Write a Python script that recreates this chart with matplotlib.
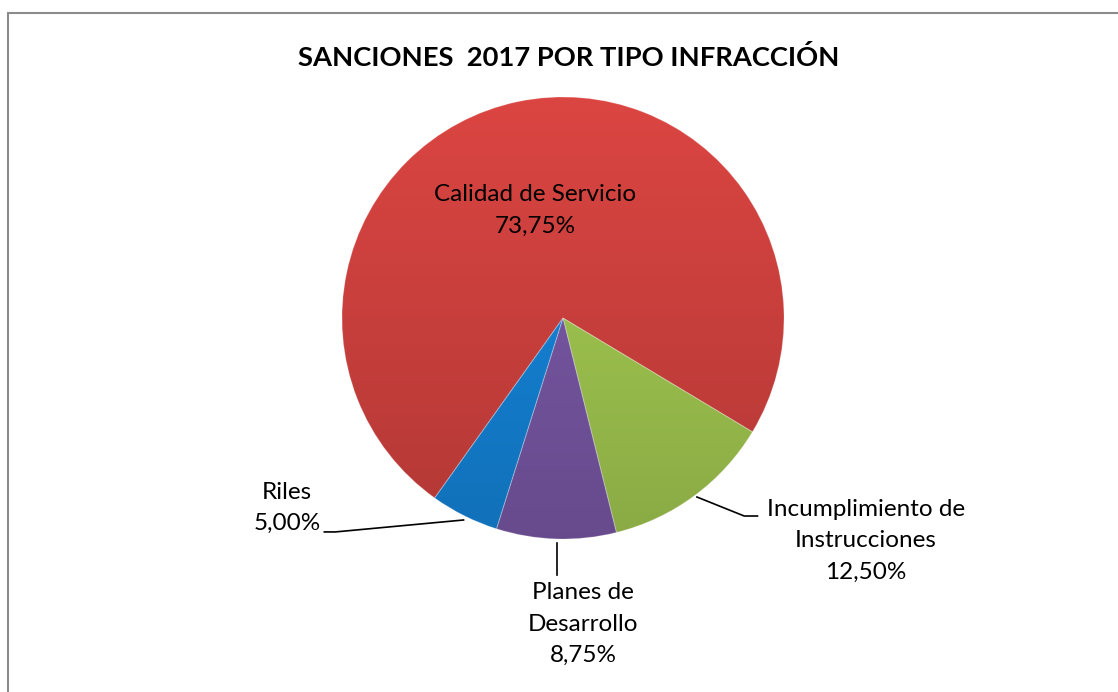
import numpy as np
import matplotlib.pyplot as plt
from matplotlib.patches import Rectangle
from matplotlib.colors import to_rgb

# Sanciones 2017 por tipo de infraccion
categorias = ["Calidad de Servicio", "Incumplimiento de\nInstrucciones",
              "Planes de\nDesarrollo", "Riles"]
porcentajes = [73.75, 12.50, 8.75, 5.00]
colores = ["#CB403D", "#9DC24E", "#7555A0", "#1480D2"]

plt.rcParams['font.family'] = ['Lato', 'DejaVu Sans']

fig = plt.figure(figsize=(11.18, 6.92), dpi=100)
fig.patches.append(Rectangle((8 / 1118, -0.05), 1.2, 1 - 13 / 692 + 0.05,
                             transform=fig.transFigure, fill=False,
                             edgecolor="#8c8c8c", linewidth=1.5))

fig.text(0.509, 1 - 57 / 692, "SANCIONES  2017 POR TIPO INFRACCIÓN",
         ha="center", va="center", fontsize=19.7, fontweight="bold")

ax = fig.add_axes([342 / 1118, (692 - 539) / 692, 442 / 1118, 442 / 692])
wedges, _ = ax.pie(porcentajes, colors=colores, startangle=-125.5,
                   counterclock=False, radius=1,
                   wedgeprops=dict(linewidth=0.8, edgecolor="#ffffff30"))
ax.set_xlim(-1, 1)
ax.set_ylim(-1, 1)

# shading: lighter at top, darker at bottom
fac = np.linspace(1.08, 0.88, 200)[:, None, None]
for w, c in zip(wedges, colores):
    img = np.clip(np.ones((200, 2, 3)) * np.array(to_rgb(c)) * fac, 0, 1)
    im = ax.imshow(img, extent=(-1, 1, -1, 1), aspect="auto", zorder=w.get_zorder(),
                   interpolation="bilinear")
    im.set_clip_path(w)
    w.set_facecolor("none")
    w.set_zorder(w.get_zorder() + 0.1)
ax.set_xlim(-1, 1)
ax.set_ylim(-1, 1)
ax.axis("off")

def etiqueta(i):
    return f"{categorias[i]}\n{porcentajes[i]:.2f}%".replace(".", ",")

fs = 17.5
ls = 1.62
ax.text(-0.127, 0.487, etiqueta(0), ha="center", va="center", fontsize=fs,
        linespacing=ls)

# Incumplimiento
ax.text(1.371, -1.009, etiqueta(1), ha="center", va="center", fontsize=fs,
        linespacing=ls)
ax.plot([0.606, 0.82, 0.88], [-0.81, -0.896, -0.896], color="black", lw=1.2,
        clip_on=False)

# Planes de Desarrollo
ax.text(0.09, -1.385, etiqueta(2), ha="center", va="center", fontsize=fs,
        linespacing=ls)
ax.plot([-0.027, -0.027], [-1.02, -1.165], color="black", lw=1.2, clip_on=False)

# Riles
ax.text(-1.249, -0.86, etiqueta(3), ha="center", va="center", fontsize=fs,
        linespacing=ls)
ax.plot([-0.45, -1.03, -1.08], [-0.914, -0.968, -0.968], color="black", lw=1.2,
        clip_on=False)

fig.savefig("out.png", dpi=100)
